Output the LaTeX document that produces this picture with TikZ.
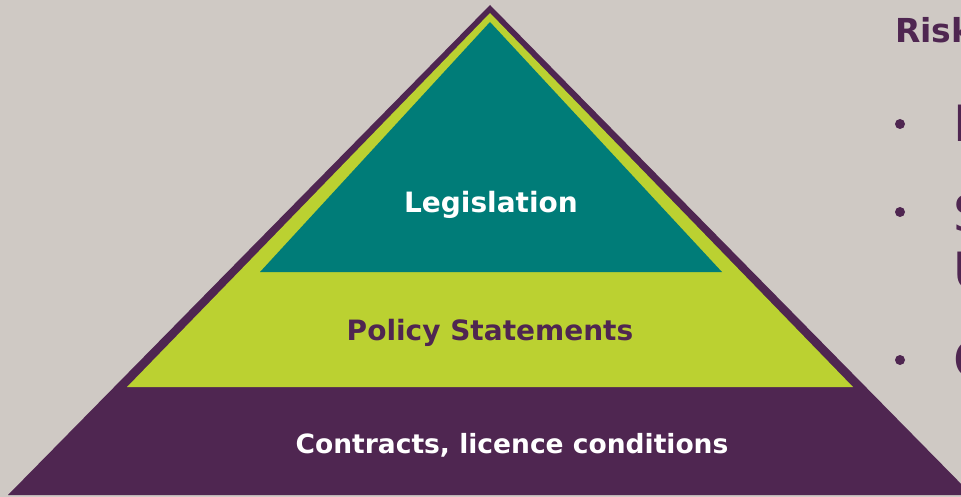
\documentclass[tikz,border=0pt]{standalone}
\usepackage{fontspec}
\setmainfont{DejaVu Sans}
\definecolor{plum}{RGB}{79,38,81}
\definecolor{lime}{RGB}{187,209,49}
\definecolor{legteal}{RGB}{0,124,120}
\definecolor{stone}{RGB}{207,201,196}
\tikzset{
  tiertext/.style={font=\bfseries\fontsize{28}{32}\selectfont,anchor=base,inner sep=0pt},
  sidetext/.style={text=plum,font=\fontsize{50}{56}\selectfont,anchor=base west,inner sep=0pt},
  dot/.style={circle,fill=plum,inner sep=0pt,minimum size=10pt}
}

\begin{document}
\begin{tikzpicture}[x=1pt,y=-1pt]
\def\W{961}\def\H{497}
\useasboundingbox (0,0) rectangle (\W,\H);
\fill[stone] (0,0) rectangle (\W,\H);
\clip (0,0) rectangle (\W,\H);
\coordinate (apex) at (490,5);
\coordinate (baseL) at (8,495);
\coordinate (baseR) at (972,495);
\coordinate (midtop) at (490,13);
\coordinate (midL) at (127,387);
\coordinate (midR) at (853,387);
\coordinate (toptop) at (490,22);
\coordinate (topL) at (260,272);
\coordinate (topR) at (722,272);
\fill[plum] (apex) -- (baseL) -- (baseR) -- cycle;
\fill[lime] (midtop) -- (midL) -- (midR) -- cycle;
\fill[legteal] (toptop) -- (topL) -- (topR) -- cycle;
\node[tiertext,white] (legis) at (491,213) {Legislation};
\node[tiertext,text=plum] (policy) at (490,340) {Policy Statements};
\node[tiertext,white,font=\bfseries\fontsize{26.5}{30}\selectfont] (contracts) at (512,453) {Contracts, licence conditions};
\node[sidetext,font=\bfseries\fontsize{33}{38}\selectfont] (risk) at (895,43) {Risk};
\node[dot] (dot1) at (900,124) {};
\node[dot] (dot2) at (900,212) {};
\node[dot] (dot3) at (900,360) {};
\node[sidetext] (p) at (953,142) {P};
\node[sidetext] (s) at (953,232) {S};
\node[sidetext] (u) at (953,288) {U};
\node[sidetext] (c) at (953,377) {C};
\end{tikzpicture}
\end{document}
